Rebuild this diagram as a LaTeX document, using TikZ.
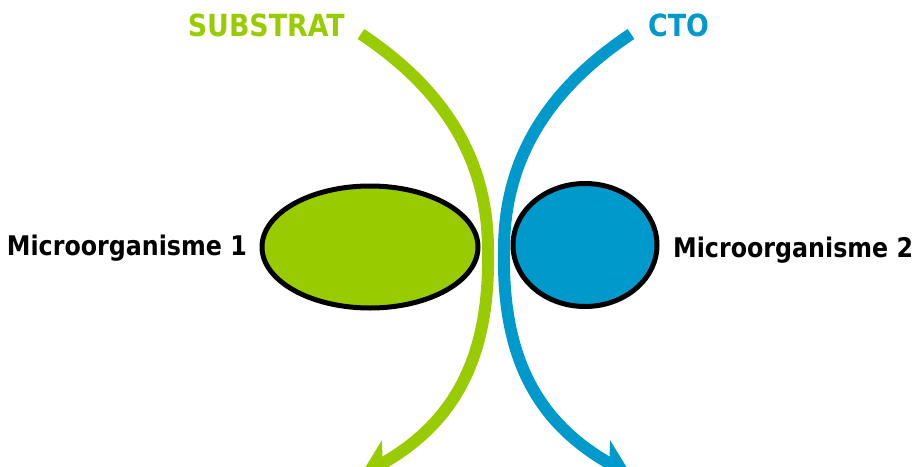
\documentclass[tikz,border=0pt]{standalone}
\usepackage{fontspec}
\setmainfont{DejaVu Sans}[FakeStretch=0.88]
\usetikzlibrary{arrows.meta,shapes.geometric}
\definecolor{mgreen}{HTML}{99CC00}
\definecolor{mblue}{HTML}{0099CC}
\begin{document}
\begin{tikzpicture}[x=1pt,y=-1pt,
  lbl/.style={font=\fontsize{27}{27}\selectfont\bfseries, inner sep=0pt},
  ttl/.style={font=\fontsize{30.5}{30.5}\selectfont\bfseries, inner sep=0pt},
  cell/.style={draw=black, line width=5pt, ellipse, inner sep=0pt},
  flow/.style={line width=12pt, -{Stealth[length=36pt,width=40pt,inset=10pt]}}]
\useasboundingbox (0,0) rectangle (913,466);
\clip (0,0) rectangle (913,466);
\node[cell, fill=mgreen, minimum width=216pt, minimum height=122pt] (m1) at (370,247) {};
\node[cell, fill=mblue, minimum width=144pt, minimum height=123pt] (m2) at (585,245) {};
\node[lbl, anchor=east] (t1) at (247,248) {Microorganisme 1};
\node[lbl, anchor=west] (t2) at (673,250) {Microorganisme 2};
\node[ttl, text=mgreen, anchor=east] (s) at (345,25) {SUBSTRAT};
\node[ttl, text=mblue, anchor=west] (c) at (648,25) {CTO};
\coordinate (gs) at (361,34);
\coordinate (gm) at (488,250);
\coordinate (ge) at (360,476);
\coordinate (bs) at (631,34);
\coordinate (bm) at (504,250);
\coordinate (be) at (632,476);
\draw[flow, mgreen] (gs) .. controls (445,90) and (488,160) .. (gm)
  .. controls (490,350) and (460,420) .. (ge);
\draw[flow, mblue] (bs) .. controls (547,90) and (504,160) .. (bm)
  .. controls (502,350) and (532,420) .. (be);
\end{tikzpicture}
\end{document}
